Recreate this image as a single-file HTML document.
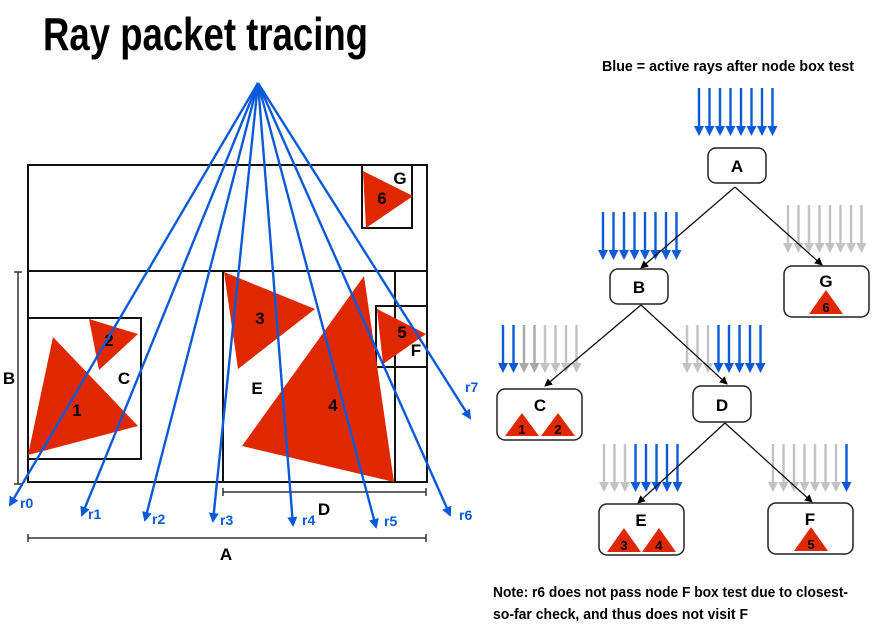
<!DOCTYPE html>
<html><head><meta charset="utf-8"><style>
html,body{margin:0;padding:0;background:#fff;}
svg{display:block;}
text{font-family:"Liberation Sans Narrow","Liberation Sans",sans-serif;font-weight:bold;}
</style></head><body>
<svg width="875" height="630" viewBox="0 0 875 630" xmlns="http://www.w3.org/2000/svg">
<defs>
<marker id="bh" markerWidth="10" markerHeight="10" refX="8" refY="5" orient="auto" markerUnits="userSpaceOnUse"><path d="M0,0 L10,5 L0,10 z" fill="#0a5ad8"/></marker>
<marker id="kh" markerWidth="8" markerHeight="8" refX="7" refY="4" orient="auto" markerUnits="userSpaceOnUse"><path d="M0,0 L8,4 L0,8 z" fill="#000"/></marker>
<g id="ar"><line x1="0" y1="0" x2="0" y2="40" stroke="currentColor" stroke-width="2.4"/><path d="M-5,38 L5,38 L0,48 z" fill="currentColor"/></g>
</defs>
<text x="43" y="50" font-size="46" textLength="325" lengthAdjust="spacingAndGlyphs">Ray packet tracing</text>

<!-- left boxes -->
<g fill="none" stroke="#111" stroke-width="2">
<rect x="28" y="165" width="399" height="317"/>
<line x1="28" y1="271" x2="427" y2="271"/>
<rect x="223" y="271" width="172" height="211"/>
<rect x="376" y="306" width="51" height="61"/>
<rect x="362" y="165" width="50" height="63"/>
<rect x="28" y="318" width="113" height="141"/>
</g>
<g fill="#e02800">
<polygon points="53,337 138,426 28,455"/>
<polygon points="89,319 138,334 99,370"/>
<polygon points="224,272 315,309 238,369"/>
<polygon points="364,276 394,482 242,446"/>
<polygon points="377,309 426,334 383,364"/>
<polygon points="363,171 413,196 366,228"/>
</g>
<g font-size="17" fill="#000" text-anchor="middle">
<text x="77" y="416">1</text><text x="109" y="346">2</text><text x="124" y="384">C</text>
<text x="260" y="324">3</text><text x="257" y="394">E</text><text x="333" y="411">4</text>
<text x="402" y="338">5</text><text x="416" y="356">F</text><text x="382" y="204">6</text>
<text x="400" y="184">G</text><text x="9" y="384">B</text>
<text x="324" y="515">D</text><text x="226" y="560">A</text>
</g>
<!-- dimension lines -->
<g stroke="#333" stroke-width="1.5">
<line x1="18" y1="272" x2="18" y2="484"/><line x1="14" y1="272" x2="22" y2="272"/><line x1="14" y1="484" x2="22" y2="484"/>
<line x1="223" y1="492" x2="426" y2="492"/><line x1="223" y1="488" x2="223" y2="496"/><line x1="426" y1="488" x2="426" y2="496"/>
<line x1="28" y1="538" x2="426" y2="538"/><line x1="28" y1="534" x2="28" y2="542"/><line x1="426" y1="534" x2="426" y2="542"/>
</g>
<!-- rays -->
<g stroke="#0a5ad8" stroke-width="2.4" marker-end="url(#bh)">
<line x1="258" y1="83" x2="10" y2="505"/>
<line x1="258" y1="83" x2="82" y2="515"/>
<line x1="258" y1="83" x2="145" y2="520"/>
<line x1="258" y1="83" x2="213" y2="521"/>
<line x1="258" y1="83" x2="293" y2="525"/>
<line x1="258" y1="83" x2="376" y2="527"/>
<line x1="258" y1="83" x2="450" y2="515"/>
<line x1="258" y1="83" x2="470" y2="418"/>
</g>
<g font-size="14" fill="#0a5ad8">
<text x="20" y="508">r0</text><text x="88" y="519">r1</text><text x="152" y="524">r2</text>
<text x="220" y="525">r3</text><text x="302" y="525">r4</text><text x="384" y="526">r5</text>
<text x="459" y="520">r6</text><text x="465" y="392">r7</text>
</g>

<!-- tree -->
<text x="728" y="71" font-size="15" text-anchor="middle" textLength="252" lengthAdjust="spacingAndGlyphs">Blue = active rays after node box test</text>
<g>
<!-- A bundle -->
<use href="#ar" x="699" y="88" color="#0a5ad8"/><use href="#ar" x="709.5" y="88" color="#0a5ad8"/><use href="#ar" x="720" y="88" color="#0a5ad8"/><use href="#ar" x="730.5" y="88" color="#0a5ad8"/><use href="#ar" x="741" y="88" color="#0a5ad8"/><use href="#ar" x="751.5" y="88" color="#0a5ad8"/><use href="#ar" x="762" y="88" color="#0a5ad8"/><use href="#ar" x="772.5" y="88" color="#0a5ad8"/>
<!-- B bundle -->
<use href="#ar" x="603" y="212" color="#0a5ad8"/><use href="#ar" x="613.5" y="212" color="#0a5ad8"/><use href="#ar" x="624" y="212" color="#0a5ad8"/><use href="#ar" x="634.5" y="212" color="#0a5ad8"/><use href="#ar" x="645" y="212" color="#0a5ad8"/><use href="#ar" x="655.5" y="212" color="#0a5ad8"/><use href="#ar" x="666" y="212" color="#0a5ad8"/><use href="#ar" x="676.5" y="212" color="#0a5ad8"/>
<!-- G bundle -->
<use href="#ar" x="788" y="205" color="#c2c2c2"/><use href="#ar" x="798.5" y="205" color="#c2c2c2"/><use href="#ar" x="809" y="205" color="#c2c2c2"/><use href="#ar" x="819.5" y="205" color="#c2c2c2"/><use href="#ar" x="830" y="205" color="#c2c2c2"/><use href="#ar" x="840.5" y="205" color="#c2c2c2"/><use href="#ar" x="851" y="205" color="#c2c2c2"/><use href="#ar" x="861.5" y="205" color="#c2c2c2"/>
<!-- C bundle -->
<use href="#ar" x="503" y="325" color="#0a5ad8"/><use href="#ar" x="513.5" y="325" color="#0a5ad8"/><use href="#ar" x="524" y="325" color="#a8a8a8"/><use href="#ar" x="534.5" y="325" color="#a8a8a8"/><use href="#ar" x="545" y="325" color="#c2c2c2"/><use href="#ar" x="555.5" y="325" color="#c2c2c2"/><use href="#ar" x="566" y="325" color="#c2c2c2"/><use href="#ar" x="576.5" y="325" color="#c2c2c2"/>
<!-- D bundle -->
<use href="#ar" x="687" y="325" color="#c2c2c2"/><use href="#ar" x="697.5" y="325" color="#c2c2c2"/><use href="#ar" x="708" y="325" color="#c2c2c2"/><use href="#ar" x="718.5" y="325" color="#0a5ad8"/><use href="#ar" x="729" y="325" color="#0a5ad8"/><use href="#ar" x="739.5" y="325" color="#0a5ad8"/><use href="#ar" x="750" y="325" color="#0a5ad8"/><use href="#ar" x="760.5" y="325" color="#0a5ad8"/>
<!-- E bundle -->
<use href="#ar" x="604" y="444" color="#c2c2c2"/><use href="#ar" x="614.5" y="444" color="#c2c2c2"/><use href="#ar" x="625" y="444" color="#c2c2c2"/><use href="#ar" x="635.5" y="444" color="#0a5ad8"/><use href="#ar" x="646" y="444" color="#0a5ad8"/><use href="#ar" x="656.5" y="444" color="#0a5ad8"/><use href="#ar" x="667" y="444" color="#0a5ad8"/><use href="#ar" x="677.5" y="444" color="#0a5ad8"/>
<!-- F bundle -->
<use href="#ar" x="773" y="444" color="#c2c2c2"/><use href="#ar" x="783.5" y="444" color="#c2c2c2"/><use href="#ar" x="794" y="444" color="#c2c2c2"/><use href="#ar" x="804.5" y="444" color="#c2c2c2"/><use href="#ar" x="815" y="444" color="#c2c2c2"/><use href="#ar" x="825.5" y="444" color="#c2c2c2"/><use href="#ar" x="836" y="444" color="#c2c2c2"/><use href="#ar" x="846.5" y="444" color="#0a5ad8"/>
</g>
<!-- edges -->
<g stroke="#111" stroke-width="1.3" marker-end="url(#kh)">
<line x1="735" y1="187" x2="641" y2="268"/>
<line x1="735" y1="187" x2="822" y2="265"/>
<line x1="641" y1="305" x2="545" y2="386"/>
<line x1="641" y1="305" x2="727" y2="384"/>
<line x1="725" y1="423" x2="638" y2="503"/>
<line x1="725" y1="423" x2="812" y2="502"/>
</g>
<!-- nodes -->
<g fill="#fff" stroke="#222" stroke-width="1.5">
<rect x="708" y="148" width="58" height="35" rx="8"/>
<rect x="610" y="269" width="58" height="35" rx="8"/>
<rect x="784" y="266" width="85" height="51" rx="8"/>
<rect x="497" y="389" width="85" height="51" rx="8"/>
<rect x="693" y="386" width="58" height="36" rx="8"/>
<rect x="599" y="504" width="85" height="51" rx="8"/>
<rect x="768" y="503" width="85" height="51" rx="8"/>
</g>
<g fill="#e02800">
<polygon points="826,290 843,314 809,314"/>
<polygon points="522,413 539,436 505,436"/>
<polygon points="558,413 575,436 541,436"/>
<polygon points="624,528 641,552 607,552"/>
<polygon points="659,528 676,552 642,552"/>
<polygon points="811,527 828,551 794,551"/>
</g>
<g font-size="17" text-anchor="middle" fill="#000">
<text x="737" y="172">A</text><text x="639" y="293">B</text><text x="826" y="287">G</text>
<text x="540" y="411">C</text><text x="722" y="411">D</text><text x="641" y="526">E</text><text x="810" y="525">F</text>
</g>
<g font-size="13" text-anchor="middle" fill="#000">
<text x="826" y="312">6</text><text x="522" y="434">1</text><text x="558" y="434">2</text>
<text x="624" y="550">3</text><text x="659" y="550">4</text><text x="811" y="549">5</text>
</g>
<text x="493" y="597" font-size="15" textLength="355" lengthAdjust="spacingAndGlyphs">Note: r6 does not pass node F box test due to closest-</text>
<text x="493" y="619" font-size="15" textLength="255" lengthAdjust="spacingAndGlyphs">so-far check, and thus does not visit F</text>
</svg>
</body></html>
